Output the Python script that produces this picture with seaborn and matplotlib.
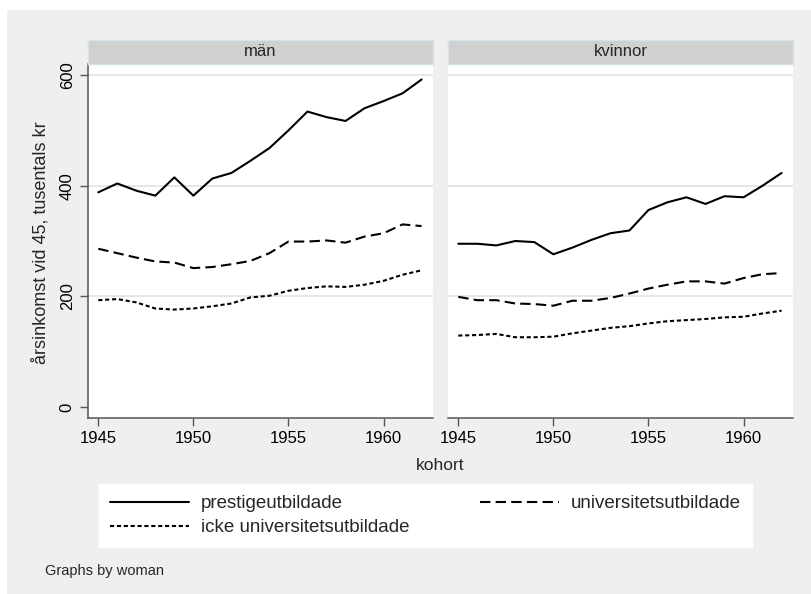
import numpy as np
import pandas as pd
import matplotlib.pyplot as plt
import seaborn as sns
from matplotlib.lines import Line2D
from matplotlib.patches import Rectangle

sns.set_theme(style="white")
plt.rcParams['font.family'] = ['Liberation Sans', 'DejaVu Sans']

# kohorter
years = list(range(1945, 1963))

# män
man_prestige = [388, 404, 391, 382, 415, 382, 413, 423, 445, 468, 500, 534, 524, 517, 540, 553, 567, 592]
man_univ = [286, 278, 270, 263, 261, 251, 253, 258, 264, 278, 299, 299, 301, 297, 308, 314, 330, 327]
man_icke = [193, 195, 189, 178, 176, 178, 182, 187, 198, 201, 210, 215, 218, 217, 221, 228, 239, 247]

# kvinnor
kv_prestige = [295, 295, 292, 300, 298, 276, 288, 302, 314, 319, 356, 370, 379, 367, 381, 379, 400, 423]
kv_univ = [199, 193, 193, 187, 186, 183, 192, 192, 197, 205, 214, 221, 227, 227, 223, 233, 240, 242]
kv_icke = [129, 130, 132, 126, 126, 127, 133, 138, 143, 146, 151, 155, 157, 159, 162, 163, 169, 174]

panels = ['män', 'kvinnor']
series = ['prestigeutbildade', 'universitetsutbildade', 'icke universitetsutbildade']
y_ticks = [0, 200, 400, 600]
x_ticks = [1945, 1950, 1955, 1960]

rows = []
for panel, vals in zip(panels, [[man_prestige, man_univ, man_icke],
                                [kv_prestige, kv_univ, kv_icke]]):
    for s, v in zip(series, vals):
        for yr, val in zip(years, v):
            rows.append({'kon': panel, 'utb': s, 'kohort': yr, 'inkomst': val})
df = pd.DataFrame(rows)

dashes = {'prestigeutbildade': '',
          'universitetsutbildade': (5, 2.5),
          'icke universitetsutbildade': (2, 1.3)}
palette = {s: 'black' for s in series}

W, H = 811, 594
fig = plt.figure(figsize=(W / 100, H / 100), dpi=100, facecolor='white')
fig.patches.append(Rectangle((7 / W, 0), 1 - 7 / W, 1 - 10 / H, transform=fig.transFigure,
                             facecolor='#efefef', edgecolor='none', zorder=-10))

ax_b, ax_w, ax_h = 1 - 418 / H, 345 / W, 354 / H
lefts = [88 / W, 448 / W]
gray = '#555555'

for i, (panel, x0) in enumerate(zip(panels, lefts)):
    ax = fig.add_axes([x0, ax_b, ax_w, ax_h])
    ax.set_facecolor('white')
    sub = df[df['kon'] == panel]
    sns.lineplot(data=sub, x='kohort', y='inkomst', hue='utb', style='utb',
                 palette=palette, dashes=dashes, linewidth=1.5, ax=ax, legend=False)
    ax.set_xlim(1944.46, 1962.6)
    ax.set_ylim(-20, 620)
    ax.set_xticks(x_ticks)
    ax.set_yticks(y_ticks)
    ax.set_xlabel('')
    ax.set_ylabel('')
    ax.grid(axis='y', color='#e4e4e4', linewidth=1.3)
    ax.yaxis.get_gridlines()[0].set_visible(False)
    for sp in ['top', 'right']:
        ax.spines[sp].set_visible(False)
    ax.spines['bottom'].set_color(gray)
    ax.spines['bottom'].set_linewidth(1.1)
    ax.tick_params(axis='x', bottom=True, length=5.5, width=1, color=gray, pad=4,
                   labelsize=12, labelcolor='black')
    if i == 0:
        ax.spines['left'].set_color(gray)
        ax.spines['left'].set_linewidth(1.1)
        ax.tick_params(axis='y', left=True, length=5.5, width=1, color=gray, pad=4,
                       labelsize=12, labelcolor='black')
        for lab in ax.get_yticklabels():
            lab.set_rotation(90)
            lab.set_va('center')
    else:
        ax.spines['left'].set_visible(False)
        ax.tick_params(axis='y', left=False, labelleft=False)

    # rubrikremsa
    strip = fig.add_axes([x0, 1 - 64 / H, ax_w, 24 / H])
    strip.set_facecolor('#d0d0d0')
    strip.set_xticks([])
    strip.set_yticks([])
    for sp in strip.spines.values():
        sp.set_color('#d4e4ea')
        sp.set_linewidth(1)
    strip.text(0.5, 0.5, panel, ha='center', va='center', fontsize=12, transform=strip.transAxes)

fig.text(41 / W, 1 - 243 / H, 'årsinkomst vid 45, tusentals kr', rotation=90,
         ha='center', va='center', fontsize=13)
fig.text(440 / W, 1 - 466 / H, 'kohort', ha='center', va='center', fontsize=12.5)

handles = [Line2D([], [], color='black', lw=1.5, linestyle='-'),
           Line2D([], [], color='black', lw=1.5, dashes=dashes['icke universitetsutbildade']),
           Line2D([], [], color='black', lw=1.5, dashes=dashes['universitetsutbildade'])]
labels = [series[0], series[2], series[1]]
leg = fig.legend(handles, labels, ncol=2, loc='upper left', mode='expand',
                 bbox_to_anchor=(99 / W, 1 - 484 / H, 653 / W, 0), bbox_transform=fig.transFigure,
                 fontsize=13.5, frameon=True, fancybox=False, framealpha=1, edgecolor='white',
                 facecolor='white', handlelength=4.2, handletextpad=0.65,
                 borderpad=0.6, labelspacing=0.35, borderaxespad=0)

fig.text(45 / W, 1 - 571 / H, 'Graphs by woman', ha='left', va='center', fontsize=10.5)

fig.savefig('out.png', dpi=100, facecolor=fig.get_facecolor())
